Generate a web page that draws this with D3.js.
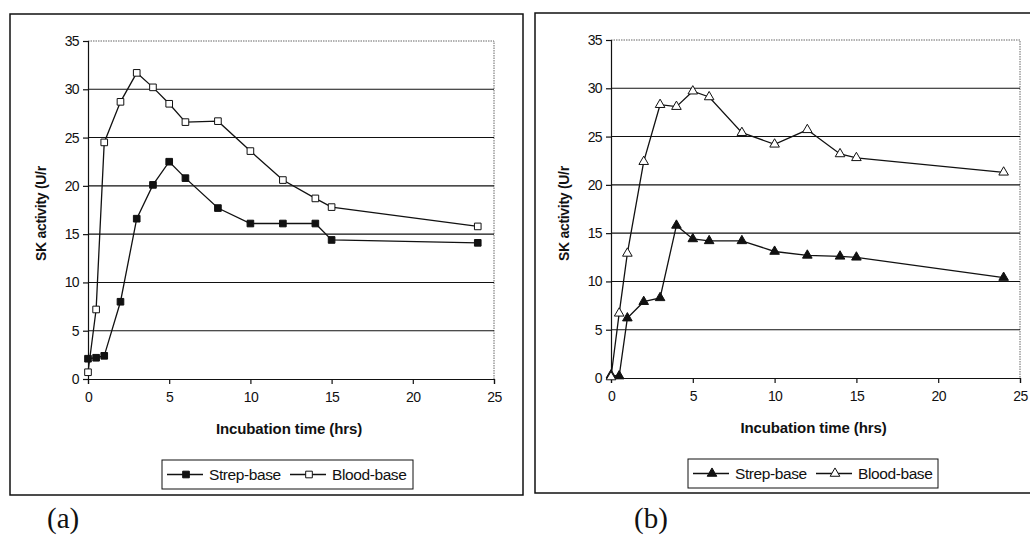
<!DOCTYPE html>
<html>
<head>
<meta charset="utf-8">
<script src="https://cdn.jsdelivr.net/npm/d3@7"></script>
<style>
  body { margin: 0; background: #fff; }
  text { font-family: "Liberation Sans", Arial, sans-serif; fill: #111; }
  text.panel-label { font-family: "Liberation Serif", "Times New Roman", serif; }
</style>
</head>
<body>
<svg width="1030" height="535"></svg>
<script>
// incubation times (hrs), shared by every series
const hours = [0, 0.5, 1, 2, 3, 4, 5, 6, 8, 10, 12, 14, 15, 24];

// panel (a)
const strepA = [2.1, 2.2, 2.4, 8.0, 16.6, 20.1, 22.5, 20.8, 17.7, 16.1, 16.1, 16.1, 14.4, 14.1];
const bloodA = [0.7, 7.2, 24.5, 28.7, 31.7, 30.2, 28.5, 26.6, 26.7, 23.6, 20.6, 18.7, 17.8, 15.8];

// panel (b)
const strepB = [0.3, 0.2, 6.2, 7.9, 8.3, 15.8, 14.4, 14.2, 14.2, 13.1, 12.7, 12.6, 12.5, 10.4];
const bloodB = [0.1, 6.7, 12.9, 22.4, 28.3, 28.1, 29.7, 29.1, 25.4, 24.2, 25.7, 23.2, 22.8, 21.3];

const xTicks = [0, 5, 10, 15, 20, 25];
const yTicks = [0, 5, 10, 15, 20, 25, 30, 35];
const seriesNames = ['Strep-base', 'Blood-base'];

const svg = d3.select('svg');
const ink = '#111';

const drawPanel = (p) => {
  const g = svg.append('g');

  // outer frame
  g.append('rect')
    .attr('x', p.box[0]).attr('y', p.box[1])
    .attr('width', p.box[2]).attr('height', p.box[3])
    .attr('fill', 'none').attr('stroke', ink).attr('stroke-width', 1.5);

  const x = d3.scaleLinear().domain([0, 25]).range([p.left, p.right]);
  const y = d3.scaleLinear().domain([0, 35]).range([p.bottom, p.top]);

  // plot area border (top + right, dotted grey)
  g.append('path')
    .attr('d', `M${p.left},${p.top}H${p.right}V${p.bottom}`)
    .attr('fill', 'none').attr('stroke', '#666').attr('stroke-width', 1)
    .attr('stroke-dasharray', '1.5,1');

  // gridlines
  g.selectAll('.grid')
    .data(yTicks.filter(d => d > 0 && d < 35))
    .enter().append('line')
    .attr('x1', p.left).attr('x2', p.right)
    .attr('y1', d => y(d)).attr('y2', d => y(d))
    .attr('stroke', ink).attr('stroke-width', 1.1);

  const yAxis = g.append('g')
    .attr('transform', `translate(${p.left},0)`)
    .call(d3.axisLeft(y).tickValues(yTicks).tickSize(5).tickPadding(4));
  const xAxis = g.append('g')
    .attr('transform', `translate(0,${p.bottom})`)
    .call(d3.axisBottom(x).tickValues(xTicks).tickSize(5).tickPadding(8));
  [yAxis, xAxis].forEach(a => {
    a.selectAll('path, line').attr('stroke', ink).attr('stroke-width', 1.2);
    a.selectAll('text').attr('font-size', 14).attr('letter-spacing', -0.6)
      .attr('font-family', '"Liberation Sans", Arial, sans-serif').attr('fill', ink);
  });

  // axis titles
  g.append('text')
    .attr('transform', `translate(${p.yTitleX},${p.yTitleY}) rotate(-90)`)
    .attr('font-size', 14).attr('font-weight', 'bold').attr('letter-spacing', -0.3)
    .text('SK activity (U/r');
  g.append('text')
    .attr('x', (p.left + p.right) / 2 - 2).attr('y', p.bottom + 55)
    .attr('text-anchor', 'middle')
    .attr('font-size', 15).attr('font-weight', 'bold').attr('letter-spacing', -0.1)
    .text('Incubation time (hrs)');

  const line = d3.line()
    .x((d, i) => x(hours[i]))
    .y(d => y(d));

  const series = [
    { values: p.strep, fill: ink },
    { values: p.blood, fill: '#fff' }
  ];

  series.forEach(s => {
    g.append('path')
      .datum(s.values)
      .attr('d', line)
      .attr('fill', 'none').attr('stroke', ink).attr('stroke-width', 1.3);
  });
  series.forEach(s => {
    g.selectAll(null)
      .data(s.values)
      .enter().append('path')
      .attr('transform', (d, i) => `translate(${x(hours[i])},${y(d)})`)
      .attr('d', d3.symbol().type(p.symbol).size(p.symSize))
      .attr('fill', s.fill).attr('stroke', ink).attr('stroke-width', 1);
  });

  // legend
  const lg = g.append('g').attr('transform', `translate(${p.legend[0]},${p.legend[1]})`);
  lg.append('rect')
    .attr('width', p.legend[2]).attr('height', 29)
    .attr('fill', '#fff').attr('stroke', ink).attr('stroke-width', 1);
  series.forEach((s, i) => {
    const ox = 5 + i * p.legendStep;
    lg.append('line')
      .attr('x1', ox).attr('x2', ox + 36).attr('y1', 14.5).attr('y2', 14.5)
      .attr('stroke', ink).attr('stroke-width', 1.3);
    lg.append('path')
      .attr('transform', `translate(${ox + 19},14.5)`)
      .attr('d', d3.symbol().type(p.symbol).size(p.symSize))
      .attr('fill', s.fill).attr('stroke', ink).attr('stroke-width', 1);
    lg.append('text')
      .attr('x', ox + 42).attr('y', 20)
      .attr('font-size', 15.5)
      .attr('letter-spacing', -0.4)
      .text(seriesNames[i]);
  });

  // panel label
  svg.append('text')
    .attr('class', 'panel-label')
    .attr('x', p.label[0]).attr('y', p.label[1])
    .attr('font-size', 29)
    .text(p.labelText);
};

drawPanel({
  box: [10, 14, 513, 481],
  left: 88, right: 494, top: 41, bottom: 379,
  yTitleX: 46, yTitleY: 261,
  strep: strepA, blood: bloodA,
  symbol: d3.symbolSquare, symSize: 44,
  legend: [162, 460, 251], legendStep: 123,
  label: [47, 528], labelText: '(a)'
});

drawPanel({
  box: [535, 13, 520, 480],
  left: 611, right: 1020, top: 40, bottom: 378,
  yTitleX: 569, yTitleY: 261,
  strep: strepB, blood: bloodB,
  symbol: d3.symbolTriangle, symSize: 40,
  legend: [688, 459, 250], legendStep: 123,
  label: [634, 528], labelText: '(b)'
});
</script>
</body>
</html>
